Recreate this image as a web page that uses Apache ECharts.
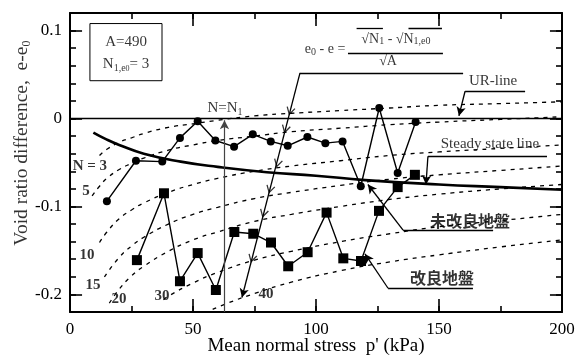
<!DOCTYPE html>
<html>
<head>
<meta charset="utf-8">
<script src="https://cdn.jsdelivr.net/npm/echarts@6/dist/echarts.min.js"></script>
<style>
  html, body { margin: 0; padding: 0; background: #fff; }
  #main { width: 576px; height: 356px; }
</style>
</head>
<body>
<div id="main"></div>
<script>
// 未改良地盤 (circles)
var unimprovedX = [15, 26.8, 37.5, 44.7, 51.9, 59.1, 66.7, 74.3, 81.6, 88.5, 96.5, 103.8, 110.8, 118.2, 125.7, 133.2, 140.5];
var unimprovedY = [-0.094, -0.048, -0.049, -0.022, -0.003, -0.025, -0.032, -0.018, -0.026, -0.031, -0.021, -0.028, -0.026, -0.077, 0.012, -0.062, -0.004];
// 改良地盤 (squares)
var improvedX = [27.2, 38.2, 44.7, 51.9, 59.3, 66.8, 74.5, 81.7, 88.7, 96.6, 104.3, 111.1, 118.3, 125.6, 133.2, 140.2];
var improvedY = [-0.161, -0.085, -0.185, -0.153, -0.195, -0.129, -0.131, -0.141, -0.168, -0.152, -0.107, -0.159, -0.162, -0.105, -0.078, -0.064];
// steady state line
var steadyX = [9.5, 15, 20, 30, 45, 60, 80, 100, 120, 150, 175, 200];
var steadyY = [-0.016, -0.024, -0.030, -0.040, -0.049, -0.055, -0.061, -0.065, -0.070, -0.075, -0.078, -0.081];
// N contours (dotted)
var n3X = [12, 15, 20, 25, 30, 40, 50, 60, 75, 90, 110, 130, 150, 175, 200];
var n3Y = [-0.042, -0.035, -0.027, -0.022, -0.017, -0.010, -0.006, -0.002, 0.003, 0.006, 0.009, 0.012, 0.015, 0.017, 0.019];
var n5X = [9, 12, 15, 20, 25, 30, 40, 50, 60, 75, 90, 110, 130, 150, 175, 200];
var n5Y = [-0.088, -0.077, -0.068, -0.058, -0.051, -0.045, -0.036, -0.030, -0.025, -0.020, -0.015, -0.011, -0.007, -0.004, -0.001, 0.002];
var n10X = [12, 15, 20, 25, 30, 40, 50, 60, 75, 90, 110, 130, 150, 175, 200];
var n10Y = [-0.141, -0.129, -0.114, -0.104, -0.096, -0.084, -0.075, -0.068, -0.060, -0.054, -0.048, -0.042, -0.038, -0.034, -0.030];
var n15X = [14, 20, 25, 30, 40, 50, 60, 75, 90, 110, 130, 150, 175, 200];
var n15Y = [-0.180, -0.158, -0.145, -0.135, -0.120, -0.109, -0.101, -0.091, -0.084, -0.076, -0.069, -0.064, -0.059, -0.054];
var n20X = [16, 20, 25, 30, 40, 50, 60, 75, 90, 110, 130, 150, 175, 200];
var n20Y = [-0.210, -0.194, -0.179, -0.168, -0.151, -0.138, -0.129, -0.117, -0.109, -0.100, -0.092, -0.086, -0.080, -0.075];
var n30X = [38, 40, 50, 60, 75, 90, 110, 130, 150, 175, 200];
var n30Y = [-0.206, -0.202, -0.187, -0.175, -0.161, -0.151, -0.140, -0.131, -0.123, -0.116, -0.109];
var n40X = [58, 64, 75, 90, 110, 130, 150, 175, 200];
var n40Y = [-0.217, -0.210, -0.199, -0.186, -0.173, -0.163, -0.155, -0.146, -0.138];
// arrow marks on the e0-e line
var chevronX = [89.5, 87.6, 84.4, 81.3, 78.7, 74.0];
var chevronY = [0.0086, -0.012, -0.0507, -0.0804, -0.1078, -0.159];
// tick labels
var xTicks = [0, 50, 100, 150, 200];
var yTicks = [-0.2, -0.1, 0, 0.1];

var X_MIN = 0, X_MAX = 200, Y_MIN = -0.22, Y_MAX = 0.12;
var SERIF = 'Liberation Serif';
var CJK = 'Noto Sans CJK JP';

function pairs(xs, ys) {
    return xs.map(function (x, i) { return [x, ys[i]]; });
}
function dotted(name, xs, ys) {
    return {
        name: name, type: 'line', data: pairs(xs, ys), smooth: true, showSymbol: false,
        lineStyle: { color: '#000', width: 1.3, type: [4, 5] }, z: 2, silent: true
    };
}
var rich = {
    m: { fontFamily: SERIF, fontSize: 15, color: '#000', lineHeight: 18 },
    b: { fontFamily: SERIF, fontSize: 15, fontWeight: 'bold', color: '#000', lineHeight: 18 },
    s: { fontFamily: SERIF, fontSize: 10, color: '#000', verticalAlign: 'bottom', lineHeight: 12 },
    t: { fontFamily: SERIF, fontSize: 8, color: '#000', verticalAlign: 'bottom', lineHeight: 10 },
    j: { fontFamily: CJK, fontSize: 16, fontWeight: 'bold', color: '#000', lineHeight: 18 },
    f: { fontFamily: SERIF, fontSize: 14, color: '#000', lineHeight: 16 },
    y: { fontFamily: SERIF, fontSize: 19.5, color: '#000', lineHeight: 22 },
    ys: { fontFamily: SERIF, fontSize: 12, color: '#000', verticalAlign: 'bottom', lineHeight: 14 }
};
function note(x, y, text) {
    return { value: [x, y], label: { show: true, position: 'inside', formatter: text, rich: rich } };
}
function seg(a, b, arrow) {
    return [{ coord: a, symbol: 'none' }, { coord: b, symbol: arrow ? 'arrow' : 'none' }];
}

var notes = [
    note(8.1, -0.054, '{b|N = 3}'),
    note(6.5, -0.083, '{b|5}'),
    note(6.9, -0.155, '{b|10}'),
    note(9.3, -0.189, '{b|15}'),
    note(19.9, -0.205, '{b|20}'),
    note(37.4, -0.202, '{b|30}'),
    note(79.7, -0.200, '{b|40}'),
    note(63, 0.012, '{m|N=N}{s|1}'),
    note(22.8, 0.087, '{m|A=490}'),
    note(22.8, 0.062, '{m|N}{s|1,e}{t|0}{m|= 3}'),
    note(103.7, 0.0787, '{f|e}{s|0}{f| - e =}'),
    note(132.5, 0.0906, '{f|√N}{s|1}{f| - √N}{s|1,e0}'),
    note(129.3, 0.0656, '{f|√A}'),
    note(172, 0.043, '{m|UR-line}'),
    note(170.7, -0.029, '{m|Steady state line}'),
    note(162.6, -0.117, '{j|未改良地盤}'),
    note(151.2, -0.181, '{j|改良地盤}')
];

// y-axis title, placed left of the plot through the same scales
var yTitle = note(-19.5, -0.028, '{y|Void ratio difference,  e-e}{ys|0}');
yTitle.label.rotate = 90;

var guides = [
    seg([0, 0], [200, 0]),
    seg([93.5, 0.052], [159.8, 0.052]),
    seg([93.5, 0.052], [69.9, -0.2035], true),
    seg([113, 0.0747], [151.6, 0.0747]),
    seg([116.5, 0.1032], [127.2, 0.1032]),
    seg([137.6, 0.1032], [151.2, 0.1032]),
    seg([160.6, 0.031], [185, 0.031]),
    seg([160.6, 0.031], [158.1, 0.003], true),
    seg([145.5, -0.043], [193.9, -0.043]),
    seg([145.5, -0.043], [144.7, -0.075], true),
    seg([135.4, -0.127], [172, -0.127]),
    seg([135.4, -0.127], [121.1, -0.075], true),
    seg([129.3, -0.193], [163.8, -0.193]),
    seg([129.3, -0.193], [119.9, -0.154], true)
];

// longer inward ticks at the labelled values, on all four sides
var majorX = 4.9, majorY = 0.0148;
var majorTicks = [];
xTicks.forEach(function (v) {
    majorTicks.push(seg([v, Y_MIN], [v, Y_MIN + majorY]));
    majorTicks.push(seg([v, Y_MAX - majorY], [v, Y_MAX]));
});
yTicks.forEach(function (v) {
    majorTicks.push(seg([X_MIN, v], [X_MIN + majorX, v]));
    majorTicks.push(seg([X_MAX - majorX, v], [X_MAX, v]));
});

function xAx(pos) {
    return {
        type: 'value', min: X_MIN, max: X_MAX, interval: 25, position: pos,
        axisLine: { show: true, onZero: false, lineStyle: { color: '#000', width: 2 } },
        axisTick: { show: true, inside: true, length: 6, lineStyle: { color: '#000', width: 1.6 } },
        axisLabel: { show: pos === 'bottom', customValues: xTicks, color: '#000', fontFamily: SERIF, fontSize: 17, margin: 9 },
        splitLine: { show: false }
    };
}
function yAx(pos) {
    return {
        type: 'value', min: Y_MIN, max: Y_MAX, interval: 0.02, position: pos,
        axisLine: { show: true, onZero: false, lineStyle: { color: '#000', width: 2 } },
        axisTick: { show: true, inside: true, length: 6, lineStyle: { color: '#000', width: 1.6 } },
        axisLabel: { show: pos === 'left', customValues: yTicks, color: '#000', fontFamily: SERIF, fontSize: 17, margin: 8 },
        splitLine: { show: false }
    };
}

var xAxes = [xAx('bottom'), xAx('top')];
xAxes[0].name = "Mean normal stress  p' (kPa)";
xAxes[0].nameLocation = 'middle';
xAxes[0].nameGap = 25;
xAxes[0].nameMoveOverlap = false;
xAxes[0].nameTextStyle = { color: '#000', fontFamily: SERIF, fontSize: 19 };

var yAxes = [yAx('left'), yAx('right')];

var option = {
    animation: false,
    backgroundColor: '#fff',
    grid: { left: 70, right: 14, top: 13, bottom: 44, containLabel: false, outerBoundsMode: 'none' },
    xAxis: xAxes,
    yAxis: yAxes,
    series: [
        dotted('N=3', n3X, n3Y),
        dotted('N=5', n5X, n5Y),
        dotted('N=10', n10X, n10Y),
        dotted('N=15', n15X, n15Y),
        dotted('N=20', n20X, n20Y),
        dotted('N=30', n30X, n30Y),
        dotted('N=40', n40X, n40Y),
        {
            name: 'guides', type: 'line', data: [], silent: true, z: 3,
            markLine: {
                silent: true, animation: false, symbolSize: [7, 9],
                label: { show: false },
                lineStyle: { color: '#000', width: 1.3, type: 'solid' },
                data: guides.concat([
                    [{ coord: [62.8, -0.22], symbol: 'none', lineStyle: { color: '#444', width: 1.2 } },
                     { coord: [62.8, -0.002], symbol: 'arrow' }]
                ])
            },
            markArea: {
                silent: true,
                itemStyle: { color: 'rgba(0,0,0,0)', borderColor: '#000', borderWidth: 1 },
                data: [[{ coord: [8.1, 0.108] }, { coord: [37.4, 0.043] }]]
            }
        },
        {
            name: 'major ticks', type: 'line', data: [], silent: true, z: 6,
            markLine: {
                silent: true, animation: false, symbol: 'none',
                label: { show: false },
                lineStyle: { color: '#000', width: 1.6, type: 'solid' },
                data: majorTicks
            }
        },
        {
            name: 'Steady state line', type: 'line', data: pairs(steadyX, steadyY), smooth: true,
            showSymbol: false, lineStyle: { color: '#000', width: 2.6 }, z: 3
        },
        {
            name: '未改良地盤', type: 'line', data: pairs(unimprovedX, unimprovedY),
            symbol: 'circle', symbolSize: 8, showAllSymbol: true,
            itemStyle: { color: '#000' }, lineStyle: { color: '#000', width: 1.4 }, z: 4
        },
        {
            name: '改良地盤', type: 'line', data: pairs(improvedX, improvedY),
            symbol: 'rect', symbolSize: 10, showAllSymbol: true,
            itemStyle: { color: '#000' }, lineStyle: { color: '#000', width: 1.4 }, z: 4
        },
        {
            name: 'marks', type: 'scatter', data: pairs(chevronX, chevronY),
            symbol: 'path://M0,0 L5,8 L10,0', symbolSize: [8, 7], symbolRotate: -15,
            itemStyle: { color: 'rgba(0,0,0,0)', borderColor: '#000', borderWidth: 1.2 }, z: 5
        },
        {
            name: 'notes', type: 'scatter', data: notes, symbolSize: 1,
            itemStyle: { color: 'rgba(0,0,0,0)' }, z: 6, silent: true
        },
        {
            name: 'yTitle', type: 'scatter', data: [yTitle], symbolSize: 1, clip: false,
            itemStyle: { color: 'rgba(0,0,0,0)' }, z: 6, silent: true
        }
    ]
};

var chart = echarts.init(document.getElementById('main'));
chart.setOption(option);
</script>
</body>
</html>
